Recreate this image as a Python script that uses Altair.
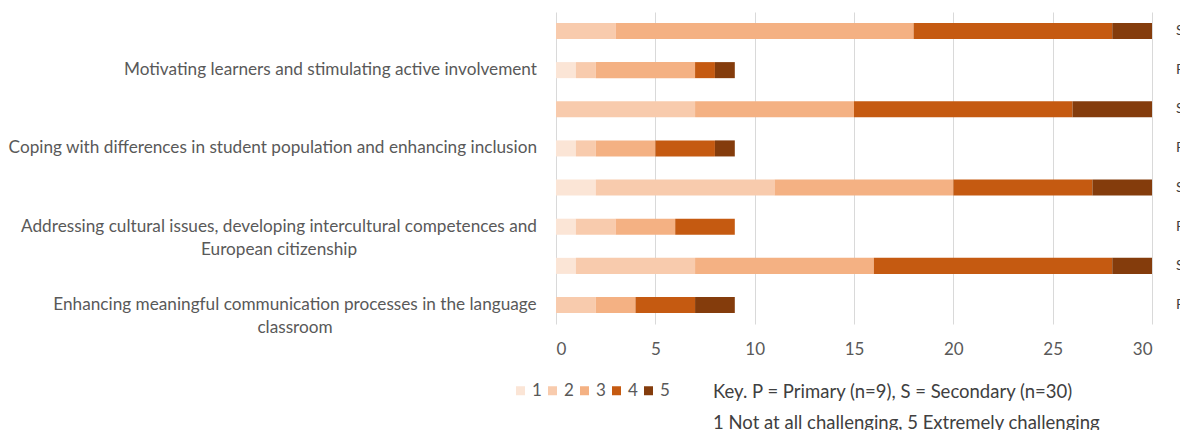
import altair as alt
import pandas as pd

categories = [
    "Motivating learners and stimulating active involvement",
    "Coping with differences in student population and enhancing inclusion",
    "Addressing cultural issues, developing intercultural competences and\nEuropean citizenship",
    "Enhancing meaningful communication processes in the language\nclassroom",
]
levels = ["1", "2", "3", "4", "5"]
secondary = [[0, 3, 15, 10, 2], [0, 7, 8, 11, 4], [2, 9, 9, 7, 3], [1, 6, 9, 12, 2]]
primary = [[1, 1, 5, 1, 1], [1, 1, 3, 3, 1], [1, 2, 3, 3, 0], [0, 2, 2, 3, 2]]
colors = ["#fbe5d6", "#f8cbad", "#f4b183", "#c55a11", "#843c0c"]
x_ticks = [0, 5, 10, 15, 20, 25, 30]
key_lines = ["Key. P = Primary (n=9), S = Secondary (n=30)",
             "1 Not at all challenging, 5 Extremely challenging"]

FONT = "Lato"
records = []
row_order = []
rows = []
for i, c in enumerate(categories):
    for g, vals in (("S", secondary[i]), ("P", primary[i])):
        rid = f"r{i}{g}"
        row_order.append(rid)
        rows.append({"row": rid, "group": g})
        for lv, v in zip(levels, vals):
            records.append({"row": rid, "group": g, "level": lv, "lvl": int(lv), "value": v})
df = pd.DataFrame(records)
rows_df = pd.DataFrame(rows)

yenc = alt.Y("row:N", sort=row_order, axis=None,
             scale=alt.Scale(domain=row_order, paddingInner=0.59, paddingOuter=0.28))

bars = alt.Chart(df).mark_bar().encode(
    x=alt.X("value:Q", stack="zero",
            scale=alt.Scale(domain=[0, 30], nice=False),
            axis=alt.Axis(values=x_ticks, grid=True, gridColor="#d9d9d9", domain=False,
                          ticks=False, labelPadding=17, labelFont=FONT, labelFontSize=17,
                          labelColor="#595959", title=None)),
    y=yenc,
    color=alt.Color("level:N", scale=alt.Scale(domain=levels, range=colors),
                    legend=alt.Legend(orient="none", legendX=-44, legendY=370,
                                      direction="horizontal", title=None, symbolType="square",
                                      symbolSize=81, symbolStrokeWidth=0, labelFontSize=17,
                                      labelFont=FONT, labelColor="#595959", columnPadding=2,
                                      labelOffset=3)),
    order=alt.Order("lvl:Q", sort="ascending"),
)

right_labels = alt.Chart(rows_df).mark_text(
    align="left", baseline="middle", font=FONT, fontSize=14, color="#404040"
).encode(y=yenc, x=alt.value(620), text="group:N")

cat_df = pd.DataFrame({"row": [row_order[1], row_order[3], row_order[5], row_order[7]],
                       "label": categories})

LAB = dict(font=FONT, fontSize=17.2, color="#595959", baseline="middle")

lab_single = alt.Chart(cat_df.iloc[0:2]).mark_text(align="right", **LAB).encode(
    y=yenc, x=alt.value(-19), text="label:N")

lab_multi1 = alt.Chart(cat_df.iloc[2:3]).mark_text(
    align="center", lineBreak="\n", lineHeight=23, **LAB
).encode(y=yenc, x=alt.value(-277), text="label:N")

lab_multi2 = alt.Chart(cat_df.iloc[3:4]).mark_text(
    align="center", lineBreak="\n", lineHeight=23, **LAB
).encode(y=yenc, x=alt.value(-261), text="label:N")

key_df = pd.DataFrame({"t": key_lines, "k": [0, 1]})
KEY = dict(align="left", baseline="middle", font=FONT, fontSize=18.5, color="#404040")
key1 = alt.Chart(key_df.iloc[0:1]).mark_text(**KEY).encode(
    x=alt.value(157), y=alt.value(380), text="t:N")
key2 = alt.Chart(key_df.iloc[1:2]).mark_text(**KEY).encode(
    x=alt.value(157), y=alt.value(411), text="t:N")

chart = alt.layer(bars, right_labels, lab_single, lab_multi1, lab_multi2, key1, key2).properties(
    width=596, height=312,
    padding={"left": 548, "top": 4, "right": 28, "bottom": 110},
    autosize=alt.AutoSizeParams(type="none"),
    background="white",
).configure_view(stroke=None)

chart.save("out.html", embed_options={"renderer": "svg", "actions": False})
